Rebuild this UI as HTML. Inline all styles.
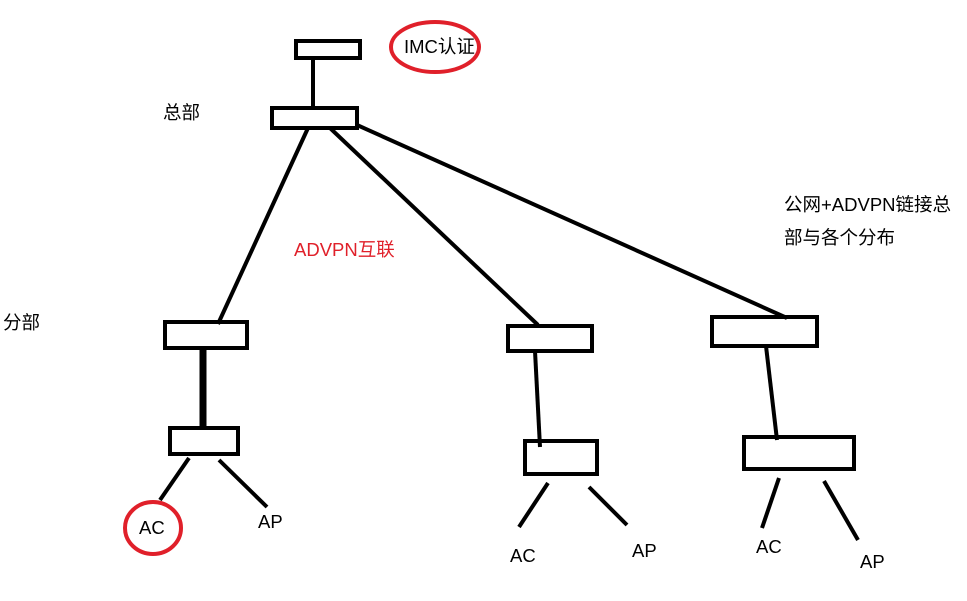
<!DOCTYPE html>
<html><head><meta charset="utf-8"><style>
html,body{margin:0;padding:0;background:#fff;}
svg{display:block;}
text{font-family:"Liberation Sans","Noto Sans CJK SC",sans-serif;font-size:18.5px;fill:#000;}
</style></head><body>
<svg width="967" height="601" viewBox="0 0 967 601" xmlns="http://www.w3.org/2000/svg">
<g fill="none" stroke="#000" stroke-width="4">
<rect x="296" y="41" width="64" height="17"/>
<line x1="313" y1="58" x2="313" y2="108"/>
<rect x="272" y="108" width="85" height="20"/>
<line x1="308" y1="128" x2="218" y2="324"/>
<line x1="330" y1="128" x2="538" y2="325"/>
<line x1="357" y1="125" x2="787" y2="318"/>
<rect x="165" y="322" width="82" height="26"/>
<line x1="203" y1="348" x2="203" y2="427" stroke-width="7"/>
<rect x="170" y="428" width="68" height="26"/>
<line x1="189" y1="458" x2="160" y2="500"/>
<line x1="219" y1="460" x2="267" y2="507"/>
<rect x="508" y="326" width="84" height="25"/>
<line x1="535" y1="351" x2="540" y2="447"/>
<rect x="525" y="441" width="72" height="33"/>
<line x1="548" y1="483" x2="519" y2="527"/>
<line x1="589" y1="487" x2="627" y2="525"/>
<rect x="712" y="317" width="105" height="29"/>
<line x1="766" y1="346" x2="777" y2="440"/>
<rect x="744" y="437" width="110" height="32"/>
<line x1="779" y1="478" x2="762" y2="528"/>
<line x1="824" y1="481" x2="858" y2="540"/>
<ellipse cx="435" cy="47" rx="44" ry="25" stroke="#e0202a"/>
<ellipse cx="153" cy="528" rx="28" ry="26" stroke="#e0202a"/>
</g>
<text x="404" y="53">IMC认证</text>
<text x="163" y="119">总部</text>
<text x="3" y="329">分部</text>
<text x="294" y="256" style="fill:#e0202a">ADVPN互联</text>
<text x="784" y="211">公网+ADVPN链接总</text>
<text x="784" y="244">部与各个分布</text>
<text x="139" y="534">AC</text>
<text x="258" y="528">AP</text>
<text x="510" y="562">AC</text>
<text x="632" y="557">AP</text>
<text x="756" y="553">AC</text>
<text x="860" y="568">AP</text>
</svg>
</body></html>
